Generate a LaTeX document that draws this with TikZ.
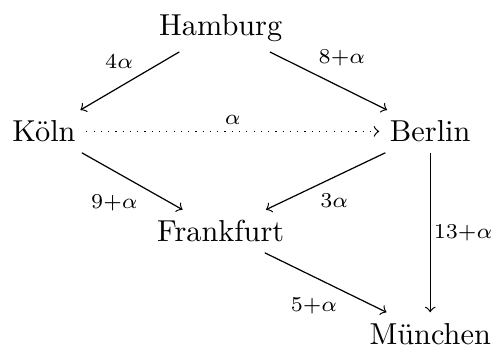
\documentclass[tikz,border=0pt]{standalone}
\usepackage{tikz}

\begin{document}
\begin{tikzpicture}[city/.style={anchor=base}, cost/.style={inner sep=2pt}]
		\useasboundingbox (0, 0) rectangle (5.73, -4.04);
		\node [city] (hamburg) at (2.56, -0.406) {Hamburg};
		\node [city] (koeln) at (0.51, -1.644) {Köln};
		\node [city] (berlin) at (4.99, -1.644) {Berlin};
		\node [city] (frankfurt) at (2.56, -2.804) {Frankfurt};
		\node [city] (muenchen) at (4.99, -3.99) {München};
		\draw [->] (hamburg) -- (koeln) node [cost, pos=0.4, above left] {$\scriptstyle 4\alpha$};
		\draw [->] (hamburg) -- (berlin) node [cost, pos=0.36, above right] {$\scriptstyle 8+\alpha$};
		\draw [->, dotted] (koeln) -- (berlin) node [cost, midway, above] {$\scriptstyle \alpha$};
		\draw [->] (koeln) -- (frankfurt) node [cost, pos=0.62, below left] {$\scriptstyle 9+\alpha$};
		\draw [->] (berlin) -- (frankfurt) node [cost, pos=0.6, below right] {$\scriptstyle 3\alpha$};
		\draw [->] (berlin) -- (muenchen) node [cost, midway, right, xshift=-1pt] {$\scriptstyle 13+\alpha$};
		\draw [->] (frankfurt) -- (muenchen) node [cost, pos=0.65, below left] {$\scriptstyle 5+\alpha$};
	\end{tikzpicture}
\end{document}
